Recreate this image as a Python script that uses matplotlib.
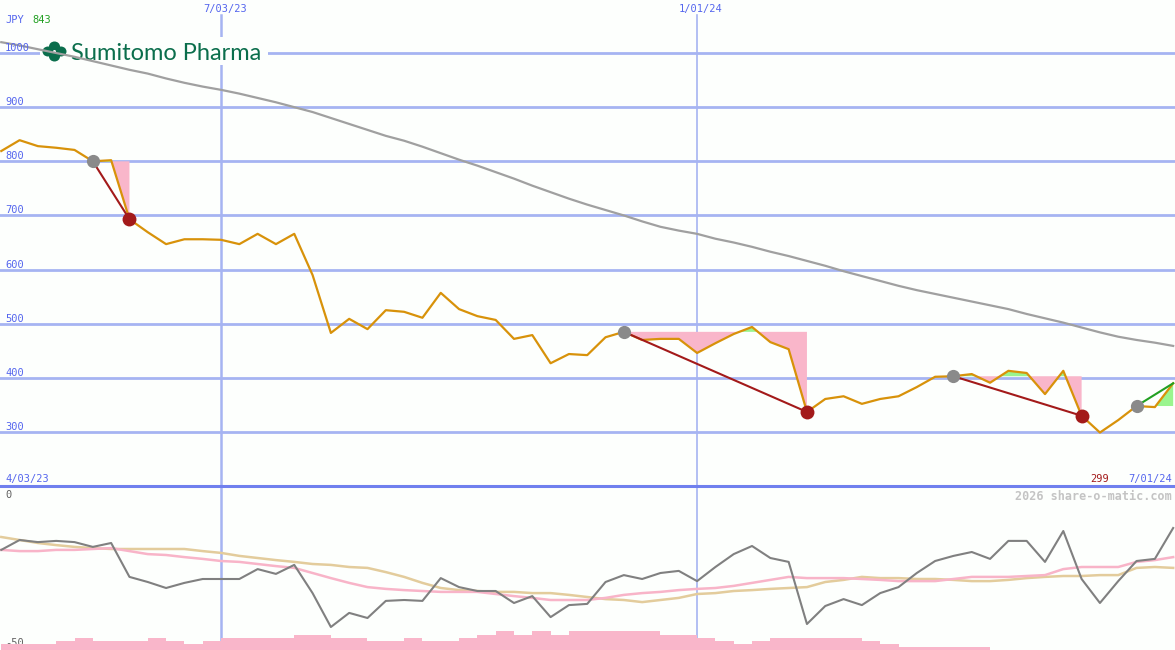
import numpy as np
import matplotlib.pyplot as plt
from matplotlib.patches import Rectangle, Ellipse
from matplotlib.lines import Line2D

# weekly data, one point per week (4/03/23 .. 7/01/24)
price = [819, 839, 828, 825, 821, 800, 802, 693, 669, 647,
         656, 656, 655, 647, 666, 647, 666, 590, 483, 509,
         490, 525, 522, 511, 557, 527, 514, 507, 472, 479,
         427, 444, 442, 475, 485, 470, 472, 472, 446, 464,
         481, 494, 466, 453, 337, 361, 366, 352, 361, 366,
         383, 402, 403, 407, 391, 413, 409, 370, 413, 330,
         299, 322, 348, 346, 390]

ma_long = [1020, 1014, 1007, 1000, 993, 985, 977, 969, 962, 953,
           945, 938, 932, 925, 917, 909, 900, 891, 880, 869,
           858, 847, 838, 827, 815, 803, 792, 780, 768, 755,
           743, 731, 720, 710, 700, 689, 679, 672, 666, 657,
           650, 642, 633, 625, 616, 607, 597, 588, 579, 570,
           562, 555, 548, 541, 534, 527, 518, 510, 502, 493,
           484, 476, 470, 465, 459]

osc = [-17.3, -14.0, -14.7, -14.3, -14.7, -16.3, -15.0, -26.3, -28.0, -30.0,
       -28.3, -27.0, -27.0, -27.0, -23.7, -25.3, -22.3, -31.7, -43.0, -38.3,
       -40.0, -34.3, -34.0, -34.3, -26.7, -29.7, -31.0, -31.0, -35.0, -32.7,
       -39.7, -35.7, -35.3, -28.0, -25.7, -27.0, -25.0, -24.3, -27.7, -23.0,
       -18.7, -16.0, -20.0, -21.3, -42.0, -36.0, -33.7, -35.7, -31.7, -29.7,
       -25.0, -21.0, -19.3, -18.0, -20.3, -14.3, -14.3, -21.3, -11.0, -27.0,
       -35.0, -27.7, -21.0, -20.3, -10.0]

osc_avg1 = [-17.3, -17.7, -17.7, -17.3, -17.3, -17.0, -16.7, -17.7, -18.7, -19.0,
            -19.7, -20.3, -21.0, -21.3, -22.0, -22.7, -23.3, -25.0, -26.7, -28.3,
            -29.7, -30.3, -30.7, -31.0, -31.3, -31.3, -31.3, -32.0, -32.7, -33.3,
            -34.0, -34.0, -34.0, -33.3, -32.3, -31.7, -31.3, -30.7, -30.3, -30.0,
            -29.3, -28.3, -27.3, -26.3, -26.7, -26.7, -26.7, -27.0, -27.3, -27.7,
            -27.7, -27.7, -27.0, -26.3, -26.3, -26.3, -26.0, -25.7, -23.7, -23.0,
            -23.0, -23.0, -21.3, -20.7, -19.7]

osc_avg2 = [-13.0, -14.0, -15.0, -15.7, -16.3, -16.7, -17.0, -17.0, -17.0, -17.0,
            -17.0, -17.7, -18.3, -19.3, -20.0, -20.7, -21.3, -22.0, -22.3, -23.0,
            -23.3, -24.7, -26.3, -28.3, -30.0, -30.7, -31.0, -31.3, -31.3, -31.7,
            -31.7, -32.3, -33.0, -33.7, -34.0, -34.7, -34.0, -33.3, -32.0, -31.7,
            -31.0, -30.7, -30.3, -30.0, -29.7, -28.0, -27.3, -26.3, -26.7, -26.7,
            -27.0, -27.0, -27.3, -27.7, -27.7, -27.3, -26.7, -26.3, -26.0, -26.0,
            -25.7, -25.7, -23.3, -23.0, -23.3]

vol = [2, 2, 2, 3, 4, 3, 3, 3, 4, 3,
       2, 3, 4, 4, 4, 4, 5, 5, 4, 4,
       3, 3, 4, 3, 3, 4, 5, 6.3, 5, 6.3,
       5, 6.3, 6.3, 6.3, 6.3, 6.3, 5, 5, 4, 3,
       2, 3, 4, 4, 4, 4, 4, 3, 2, 1,
       1, 1, 1, 1, 0, 0, 0, 0, 0, 0,
       0, 0, 0, 0, 0]

# (start week, end week) of each signal
signals = [(5, 7), (34, 44), (52, 59), (62, 64)]

grid_prices = [300, 400, 500, 600, 700, 800, 900, 1000]
date_weeks = [12, 38]
date_labels = ['7/03/23', '1/01/24']

W, H = 1175, 650
bg = '#fdfffd'
grid_col = '#a6b4f2'
blue_txt = '#5566ee'
pink = '#f9b6ca'
light_green = '#9af58e'
mono = 'DejaVu Sans Mono'

x = np.arange(len(price))
price = np.array(price, dtype=float)

fig = plt.figure(figsize=(W / 100, H / 100), dpi=100)
fig.patch.set_facecolor(bg)

top_h = 486
ax = fig.add_axes([0, (H - top_h) / H, 1, top_h / H])
ax2 = fig.add_axes([0, 0, 1, (H - top_h) / H])
for a in (ax, ax2):
    a.set_facecolor(bg)
    a.set_xticks([])
    a.set_yticks([])
    for s in a.spines.values():
        s.set_visible(False)
    a.set_xlim(-0.07, 64.1)

# price scale: 54.14 px per 100 yen, 300 at y=432px
ax.set_ylim(300 + (432 - top_h) / 0.5414, 300 + 432 / 0.5414)

ytrans = ax.get_yaxis_transform()
for g in grid_prices:
    ax.axhline(g, color=grid_col, lw=2.0, zorder=1)
    ax.text(5 / W, g, str(g), transform=ytrans, color=blue_txt, fontsize=7.5,
            family=mono, va='bottom', ha='left', zorder=6)

for wk, lab in zip(date_weeks, date_labels):
    lw = 1.8 if wk == date_weeks[0] else 1.2
    ax.axvline(wk, ymax=1 - 15 / top_h, color=grid_col, lw=lw, zorder=1)
    ax2.axvline(wk, color=grid_col, lw=lw, zorder=1)
    ax.text(wk + 0.2, 1 - 9 / top_h, lab, transform=ax.get_xaxis_transform(),
            color=blue_txt, fontsize=7.5, family=mono, ha='center', va='center')

# logo
def px(xp, yp):
    return xp / W, 1 - yp / top_h

ax.add_patch(Rectangle(px(40, 65), 228 / W, 28 / top_h, transform=ax.transAxes,
                       facecolor=bg, edgecolor='none', zorder=2))
logo_green = '#0b6e4c'
for dx, dy in [(-6.5, 0), (6.5, 0), (0, -5), (0, 5)]:
    ax.add_patch(Ellipse(px(54.5 + dx, 51.5 + dy), 11 / W, 10 / top_h,
                         transform=ax.transAxes, facecolor=logo_green,
                         edgecolor='none', zorder=2.1))
ax.add_patch(Ellipse(px(54.5, 51.5), 3 / W, 3 / top_h, transform=ax.transAxes,
                     facecolor=bg, edgecolor='none', zorder=2.2))
ax.text(*px(71, 59.5), 'Sumitomo Pharma', transform=ax.transAxes, color=logo_green,
        fontsize=17, family='Lato', va='baseline', ha='left', zorder=2.2)

# signal fills
for s, e in signals:
    xs = x[s:e + 1]
    ps = price[s:e + 1]
    lvl = price[s]
    ax.fill_between(xs, ps, lvl, where=ps <= lvl, interpolate=True,
                    color=pink, lw=0, zorder=2)
    ax.fill_between(xs, ps, lvl, where=ps >= lvl, interpolate=True,
                    color=light_green, lw=0, zorder=2)

ax.plot(x, ma_long, color='#a0a0a0', lw=1.6, zorder=3)
ax.plot(x, price, color='#d8920a', lw=1.6, zorder=4)

for s, e in signals:
    falling = price[e] < price[s]
    col = '#a31a1a' if falling else '#22a022'
    ax.plot([s, e], [price[s], price[e]], color=col, lw=1.5, zorder=5)
    ax.plot(s, price[s], 'o', color='#8a8a8a', ms=9.5, mec='none', zorder=6)
    if falling:
        ax.plot(e, price[e], 'o', color='#a31a1a', ms=10, mec='none', zorder=6)

# texts in price panel
ax.text(5 / W, 1 - 20 / top_h, 'JPY', transform=ax.transAxes, color=blue_txt,
        fontsize=7.5, family=mono, va='center')
ax.text(32 / W, 1 - 20 / top_h, '843', transform=ax.transAxes, color='#22a022',
        fontsize=7.5, family=mono, va='center')
ax.text(5 / W, 1 - 479 / top_h, '4/03/23', transform=ax.transAxes, color=blue_txt,
        fontsize=7.5, family=mono, va='center')
ax.text(1172 / W, 1 - 479 / top_h, '7/01/24', transform=ax.transAxes, color=blue_txt,
        fontsize=7.5, family=mono, va='center', ha='right')
ax.text(60, 1 - 479 / top_h, str(int(min(price))), transform=ax.get_xaxis_transform(),
        color='#a31a1a', fontsize=7.5, family=mono, va='center', ha='center')

# lower panel
low_h = H - top_h
ax2.set_ylim((498 - H) / 3, (498 - top_h) / 3)
ax2.plot(x, osc_avg2, color='#e3cc9c', lw=1.8, zorder=2)
ax2.plot(x, osc_avg1, color='#f8b4c8', lw=1.8, zorder=2)
ax2.plot(x, osc, color='#808080', lw=1.5, zorder=3)
ax2.text(5 / W, 1 - 9 / low_h, '0', transform=ax2.transAxes, color='#606060',
         fontsize=7.5, family=mono, va='center')
ax2.text(5 / W, -50, '-50', transform=ax2.get_yaxis_transform(), color='#606060',
         fontsize=7.5, family=mono, va='bottom')
ax2.text(1172 / W, 1 - 10 / low_h, '2026 share-o-matic.com', transform=ax2.transAxes,
         color='#c4c4c4', fontsize=8.5, family=mono, weight='bold', ha='right', va='center')

ax3 = ax2.twinx()
ax3.set_ylim(0, low_h / 3)
ax3.bar(x, vol, width=1.0, align='edge', color=pink, lw=0)
ax3.set_xlim(ax2.get_xlim())
ax3.set_yticks([])
for s in ax3.spines.values():
    s.set_visible(False)

# divider line between panels
fig.add_artist(Line2D([0, 1], [(H - top_h) / H] * 2, transform=fig.transFigure,
                      color='#7080ee', lw=2.2, zorder=10))

plt.savefig('out.png', dpi=100, facecolor=bg)
